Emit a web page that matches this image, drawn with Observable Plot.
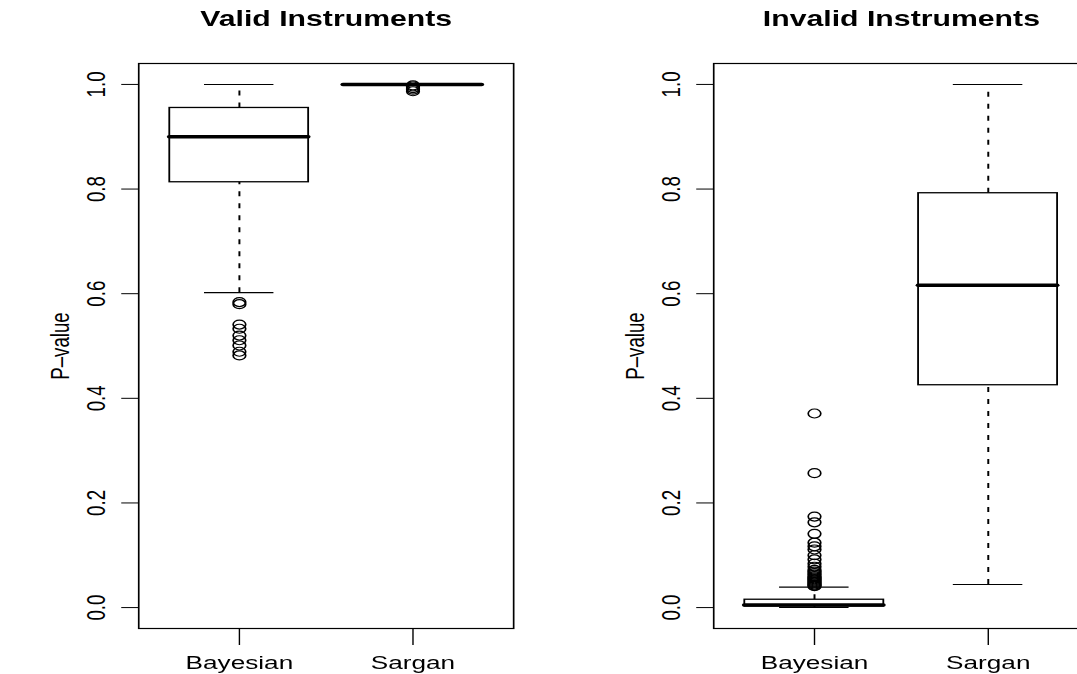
<!DOCTYPE html>
<html>
<head>
<meta charset="utf-8">
<script src="https://cdn.jsdelivr.net/npm/d3@7"></script>
<script src="https://cdn.jsdelivr.net/npm/@observablehq/plot@0.6"></script>
<style>
  html, body { margin: 0; padding: 0; background: white; overflow: hidden; }
  #outer { position: relative; width: 1077px; height: 674px; overflow: hidden; }
  #wrap { position: absolute; left: 0; top: 0; width: 800px; height: 674px; transform: scaleX(1.4); transform-origin: 0 0; }
  #left, #right { position: absolute; top: 0; }
  #left { left: 0; width: 385px; }
  #right { left: 385px; width: 411px; }
  #wrap svg { max-width: none !important; }
</style>
</head>
<body>
<div id="outer"><div id="wrap"><div id="left"></div><div id="right"></div></div></div>
<script>
// ---- data ----
const categories = ["Bayesian", "Sargan"];
const panelTitles = ["Valid Instruments", "Invalid Instruments"];
const yLabel = "P–value";
const yTicks = [0, 0.2, 0.4, 0.6, 0.8, 1.0];

// Valid instruments
const validLower  = [0.602, 1.0];
const validQ1     = [0.813, 1.0];
const validMedian = [0.900, 1.0];
const validQ3     = [0.955, 1.0];
const validUpper  = [1.0, 1.0];
const validBayesianOutliers = [0.584, 0.580, 0.541, 0.533, 0.520, 0.511, 0.501, 0.489, 0.482];
const validSarganOutliers   = [0.998, 0.996, 0.993, 0.990, 0.987];

// Invalid instruments
const invalidLower  = [0.0, 0.044];
const invalidQ1     = [0.002, 0.425];
const invalidMedian = [0.005, 0.616];
const invalidQ3     = [0.015, 0.792];
const invalidUpper  = [0.039, 1.0];
const invalidBayesianOutliers = [0.371, 0.257, 0.174, 0.163, 0.141, 0.124, 0.117, 0.111, 0.100, 0.092,
  0.084, 0.078, 0.072, 0.069, 0.066, 0.063, 0.060, 0.058, 0.056, 0.054, 0.052, 0.050, 0.048, 0.046,
  0.044, 0.042, 0.041];
const invalidSarganOutliers = [];

const FONT = "'Liberation Sans', Arial, Helvetica, sans-serif";

function panel({title, lower, q1, median, q3, upper, outliers, width, marginLeft}) {
  const boxes = categories.map((c, i) => ({pos: i + 1, lower: lower[i], q1: q1[i], median: median[i], q3: q3[i], upper: upper[i]}));
  const pts = outliers.flatMap((arr, i) => arr.map(v => ({pos: i + 1, v})));
  const dash = "5,7";
  return Plot.plot({
    width, height: 674,
    marginTop: 63, marginBottom: 46, marginLeft, marginRight: 18.6,
    style: {fontFamily: FONT, fontSize: "18.7px", background: "white", color: "black", overflow: "visible"},
    x: {domain: [0.42, 2.58]},
    y: {domain: [-0.04, 1.04]},
    marks: [
      Plot.axisY({ticks: yTicks, tickFormat: d3.format(".1f"), tickSize: 12, tickPadding: 12, tickRotate: -90, label: null, fontSize: 18.7, strokeWidth: 1}),
      Plot.axisX({ticks: [1, 2], tickFormat: d => categories[d - 1], tickSize: 17, tickPadding: 10, label: null, fontSize: 18.7}),
      Plot.ruleX(boxes, {x: "pos", y1: "q3", y2: "upper", stroke: "black", strokeWidth: 1.4, strokeDasharray: dash}),
      Plot.ruleX(boxes, {x: "pos", y1: "lower", y2: "q1", stroke: "black", strokeWidth: 1.4, strokeDasharray: dash}),
      Plot.ruleY(boxes, {y: "upper", x1: d => d.pos - 0.2, x2: d => d.pos + 0.2, stroke: "black", strokeWidth: 1.1}),
      Plot.ruleY(boxes, {y: "lower", x1: d => d.pos - 0.2, x2: d => d.pos + 0.2, stroke: "black", strokeWidth: 1.1}),
      Plot.rect(boxes, {x1: d => d.pos - 0.4, x2: d => d.pos + 0.4, y1: "q1", y2: "q3", fill: "white", stroke: "black", strokeWidth: 1.3}),
      Plot.ruleY(boxes, {y: "median", x1: d => d.pos - 0.4, x2: d => d.pos + 0.4, stroke: "black", strokeWidth: 3.5, strokeLinecap: "round"}),
      Plot.dot(pts, {x: "pos", y: "v", r: 4.5, stroke: "black", strokeWidth: 1.2, fill: "none"}),
      Plot.frame({stroke: "black", strokeWidth: 1.2}),
      Plot.text([title], {frameAnchor: "top", dy: -38, lineAnchor: "bottom", textAnchor: "middle", fontWeight: "bold", fontSize: 21.6}),
      Plot.text([yLabel], {frameAnchor: "left", dx: -55.6, rotate: -90, textAnchor: "middle", lineAnchor: "middle", fontSize: 18.7})
    ]
  });
}

document.getElementById("left").append(panel({
  title: panelTitles[0], lower: validLower, q1: validQ1, median: validMedian, q3: validQ3, upper: validUpper,
  outliers: [validBayesianOutliers, validSarganOutliers], width: 385, marginLeft: 98.6
}));
document.getElementById("right").append(panel({
  title: panelTitles[1], lower: invalidLower, q1: invalidQ1, median: invalidMedian, q3: invalidQ3, upper: invalidUpper,
  outliers: [invalidBayesianOutliers, invalidSarganOutliers], width: 411, marginLeft: 124.3
}));
</script>
</body>
</html>
